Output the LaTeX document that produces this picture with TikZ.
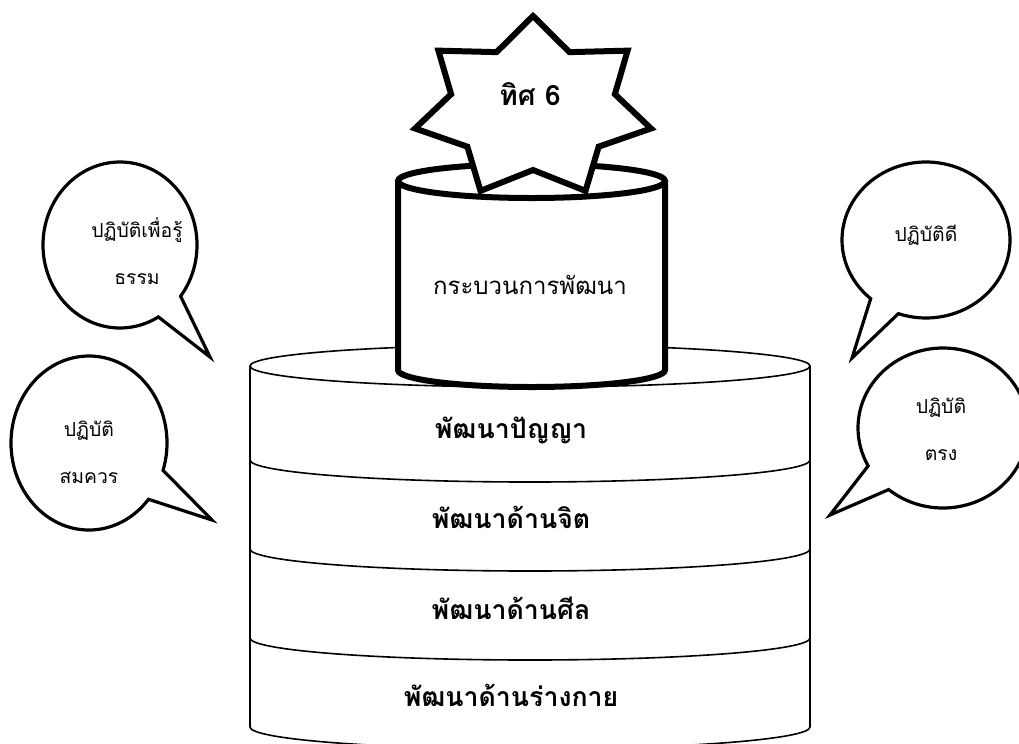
\documentclass[tikz,border=0pt]{standalone}
\usepackage{fontspec}
\newfontfamily\thaifont[Script=Thai]{Loma}
\usetikzlibrary{shapes.callouts}

\tikzset{every picture/.style={line width=1.2pt}}
\tikzset{
  bubble/.style={ellipse callout, draw, line width=2.4pt, fill=white, callout pointer arc=22},
  bubtext/.style={font=\thaifont\fontsize{14.5}{17}\selectfont, align=center},
  layertext/.style={font=\thaifont\bfseries\fontsize{20}{24}\selectfont},
  thickline/.style={line width=4.5pt, line join=miter}
}

\begin{document}
\begin{tikzpicture}[x=0.75pt,y=0.75pt,yscale=-1,xscale=1]
	\useasboundingbox (0,0) rectangle (1019,743);

	%Shape: Can (big) 
	\draw [fill=white] (250,366) -- (250,727) arc[start angle=180, end angle=0, x radius=280, y radius=22] -- (810,366) ;
	\draw [fill=white] (530,366) ellipse [x radius=280, y radius=21] ;
	%Curve Lines (layers)
	\foreach \y in {460,549,638} {
		\draw (250,\y) arc[start angle=180, end angle=0, x radius=280, y radius=22] ;
	}
	%Shape: Can (small) 
	\draw [thickline, fill=white] (398,181) -- (398,370) arc[start angle=180, end angle=0, x radius=133.5, y radius=17] -- (665,181) ;
	\draw [thickline, fill=white] (531.5,181) ellipse [x radius=133.5, y radius=17] ;
	%Shape: Star 
	\begin{scope}[shift={(533,108)}]
		\draw [thickline, fill=white] (270:121 and 92) \foreach \k in {0,...,6} { -- ({270+\k*360/7}:121 and 92) -- ({270+\k*360/7+360/14}:84 and 62) } -- cycle ;
	\end{scope}

	%Shape: Callouts 
	\node [bubble, minimum width=115.5pt, minimum height=124.5pt, callout absolute pointer={(210,357)}] (bubA) at (120,245) {};
	\node [bubble, minimum width=117pt, minimum height=130.5pt, callout absolute pointer={(212,520)}] (bubB) at (89,443) {};
	\node [bubble, minimum width=126pt, minimum height=117pt, callout absolute pointer={(852,358)}] (bubC) at (926,240) {};
	\node [bubble, minimum width=127.5pt, minimum height=120pt, callout absolute pointer={(830,515)}] (bubD) at (943,428) {};

	% Text Node
	\node [font=\thaifont\bfseries\fontsize{21}{25}\selectfont] (tis) at (530,94) {ทิศ 6};
	% Text Node
	\node [font=\thaifont\fontsize{18}{22}\selectfont] (proc) at (530,285) {กระบวนการพัฒนา};
	% Text Node
	\node [layertext] (panya) at (511,430) {พัฒนาปัญญา};
	% Text Node
	\node [layertext] (jit) at (511,517) {พัฒนาด้านจิต};
	% Text Node
	\node [layertext] (sila) at (511,608) {พัฒนาด้านศีล};
	% Text Node
	\node [layertext] (kai) at (511,695) {พัฒนาด้านร่างกาย};
	% Text Node
	\node [bubtext] (txtA) at (137,251) {ปฏิบัติเพื่อรู้\\[18pt]ธรรม};
	% Text Node
	\node [bubtext] (txtB) at (89,452) {ปฏิบัติ\\[18pt]สมควร};
	% Text Node
	\node [bubtext] (txtC) at (926,235) {ปฏิบัติดี};
	% Text Node
	\node [bubtext] (txtD) at (941,429) {ปฏิบัติ\\[18pt]ตรง};

\end{tikzpicture}
\end{document}
